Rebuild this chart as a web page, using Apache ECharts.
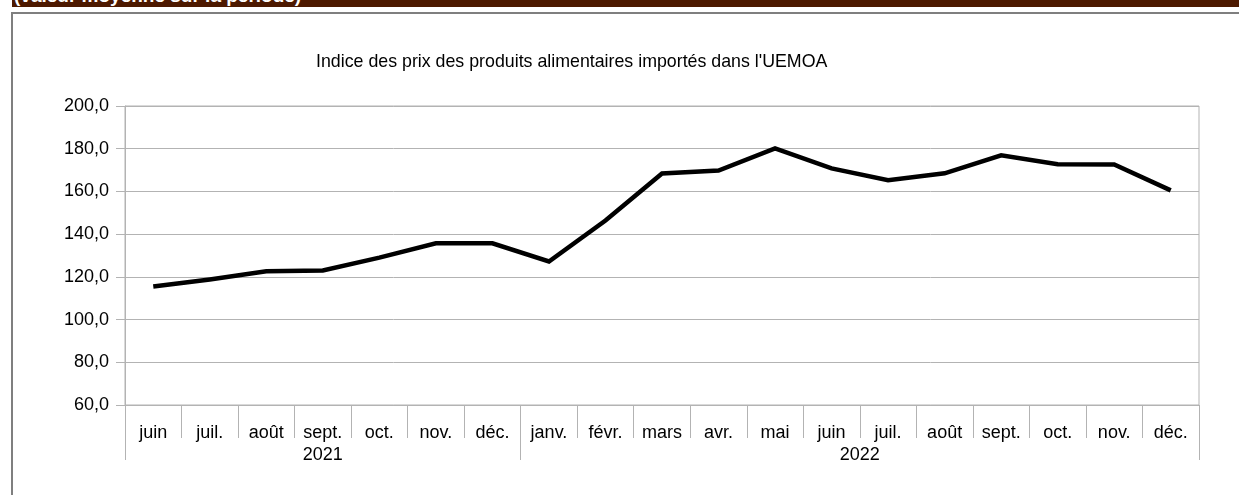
<!DOCTYPE html>
<html>
<head>
<meta charset="utf-8">
<script src="https://cdn.jsdelivr.net/npm/echarts@6/dist/echarts.min.js"></script>
<style>
  html, body { margin: 0; padding: 0; background: #fff; }
  #wrap { position: relative; width: 1239px; height: 495px; overflow: hidden; background: #fff; }
  #chart { position: absolute; left: 0; top: 0; width: 1239px; height: 495px; }
  #banner { position: absolute; left: 12px; top: 0; width: 1227px; height: 7px; background: #4d1900; overflow: hidden; z-index: 2; }
  #banner span { position: absolute; left: 2px; top: -14px; font: bold 19px "Liberation Sans", Arial, sans-serif; line-height: 19px; color: #fff; white-space: nowrap; }
  #frameTop { position: absolute; left: 12px; top: 12px; width: 1227px; height: 0; border-top: 2px solid #7f7f7f; z-index: 2; }
  #frameLeft { position: absolute; left: 11px; top: 12px; width: 0; height: 483px; border-left: 2px solid #7f7f7f; z-index: 2; }
</style>
</head>
<body>
<div id="wrap">
  <div id="chart"></div>
  <div id="banner"><span>(valeur moyenne sur la période)</span></div>
  <div id="frameTop"></div>
  <div id="frameLeft"></div>
</div>
<script>
// ---- data ----
const months = ['juin','juil.','août','sept.','oct.','nov.','déc.',
                'janv.','févr.','mars','avr.','mai','juin','juil.','août','sept.','oct.','nov.','déc.'];
const years = ['2021', '2022'];
const yearSpans = [7, 12];
const indexValues = [115.5, 118.8, 122.6, 123.0, 129.0, 135.7, 135.7,
                     127.2, 146.4, 168.4, 169.8, 180.2, 170.8, 165.2, 168.5, 176.9, 172.7, 172.6, 160.5];
const yTicks = [60, 80, 100, 120, 140, 160, 180, 200];
const chartTitle = "Indice des prix des produits alimentaires importés dans l'UEMOA";

// year boundaries / centers derived from spans
const yearBounds = [0];
yearSpans.forEach(s => yearBounds.push(yearBounds[yearBounds.length - 1] + s));
const yearCenters = yearSpans.map((s, i) => yearBounds[i] + s / 2);

const FONT = '"Liberation Sans", Arial, sans-serif';
const GRAY = '#b3b3b3';

const chart = echarts.init(document.getElementById('chart'), null, { renderer: 'canvas' });
chart.setOption({
  animation: false,
  backgroundColor: '#fff',
  title: {
    text: chartTitle,
    left: 316, top: 53, padding: 0,
    textStyle: { fontFamily: FONT, fontSize: 17.8, fontWeight: 'normal', color: '#000' }
  },
  grid: {
    left: 125, right: 40, top: 106, bottom: 90,
    show: true, borderColor: GRAY, borderWidth: 1, backgroundColor: 'transparent'
  },
  xAxis: [
    {
      type: 'category',
      data: months,
      boundaryGap: true,
      position: 'bottom',
      axisLine: { show: true, lineStyle: { color: GRAY, width: 1 } },
      axisTick: { show: true, interval: 0, length: 33, lineStyle: { color: GRAY, width: 1 } },
      axisLabel: { interval: 0, margin: 19, fontFamily: FONT, fontSize: 18, color: '#000' },
      splitLine: { show: false }
    },
    {
      type: 'value',
      min: 0, max: yearBounds[yearBounds.length - 1],
      position: 'bottom',
      axisLine: { show: false },
      axisTick: { show: true, length: 55, customValues: yearBounds, lineStyle: { color: GRAY, width: 1 } },
      axisLabel: {
        show: true, margin: 41, customValues: yearCenters,
        fontFamily: FONT, fontSize: 18, color: '#000',
        formatter: function (v) {
          for (let i = 0; i < yearSpans.length; i++) {
            if (v >= yearBounds[i] && v < yearBounds[i + 1]) return years[i];
          }
          return '';
        }
      },
      splitLine: { show: false }
    }
  ],
  yAxis: {
    type: 'value',
    min: yTicks[0], max: yTicks[yTicks.length - 1], interval: yTicks[1] - yTicks[0],
    axisLine: { show: true, lineStyle: { color: GRAY, width: 1 } },
    axisTick: { show: true, length: 9, lineStyle: { color: GRAY, width: 1 } },
    axisLabel: {
      margin: 16, fontFamily: FONT, fontSize: 18, color: '#000',
      formatter: v => v.toFixed(1).replace('.', ',')
    },
    splitLine: { show: true, lineStyle: { color: GRAY, width: 1 } }
  },
  series: [{
    type: 'line',
    xAxisIndex: 0,
    data: indexValues,
    showSymbol: false,
    symbol: 'none',
    lineStyle: { color: '#000', width: 4.5, join: 'miter' },
    itemStyle: { color: '#000' }
  }]
});
</script>
</body>
</html>
